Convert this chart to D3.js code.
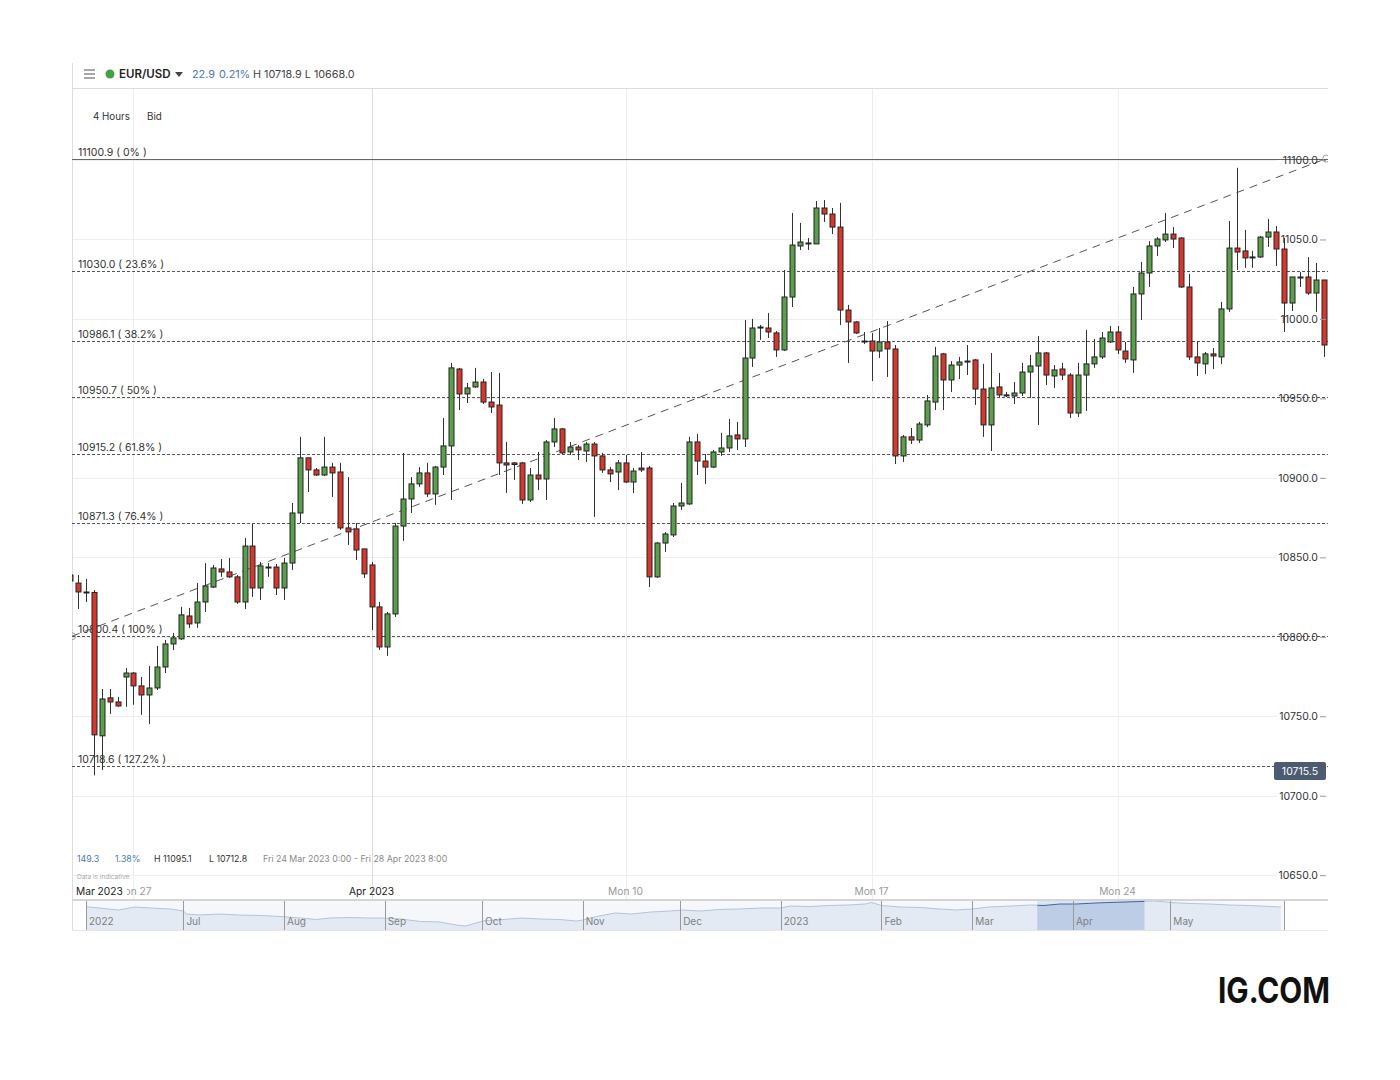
<!DOCTYPE html>
<html><head><meta charset="utf-8">
<script src="https://cdn.jsdelivr.net/npm/d3@7/dist/d3.min.js"></script>
<style>
body{margin:0;background:#fff;}
svg{display:block;font-family:Inter,"Noto Sans",sans-serif;}
</style>
</head><body>
<svg id="chart" width="1400" height="1080"></svg>
<script>
// ---------------- DATA ----------------
const symbol = "EUR/USD";
const headerChange = "22.9", headerPct = "0.21%", headerHL = "H 10718.9 L 10668.0";
const interval = "4 Hours", priceSide = "Bid";
const firstCandleIndex = -1;
const candleOpen = [10838.9,10833.8,10828.2,10827.9,10737.7,10761.6,10759.0,10774.7,10777.2,10769.1,10763.4,10767.8,10781.0,10795.5,10798.7,10813.1,10808.7,10821.9,10831.3,10842.7,10840.8,10837.7,10821.9,10857.1,10830.7,10843.9,10843.9,10830.7,10846.4,10877.9,10912.6,10905.0,10901.8,10906.8,10903.7,10868.5,10867.9,10855.3,10845.2,10818.8,10793.6,10814.4,10869.7,10886.7,10896.2,10903.1,10889.9,10906.8,10920.1,10968.5,10952.8,10957.2,10960.3,10947.7,10945.8,10909.4,10909.4,10909.4,10886.1,10901.8,10899.3,10922.6,10930.8,10916.3,10919.4,10916.9,10921.3,10913.8,10905.0,10903.7,10909.4,10897.4,10906.2,10906.2,10837.7,10859.0,10864.1,10882.3,10883.6,10922.6,10910.6,10906.8,10916.3,10918.8,10927.0,10924.5,10975.4,10994.9,10994.3,10991.2,10980.5,11013.8,11045.9,11047.2,11047.2,11069.8,11066.0,11057.8,11005.6,10998.1,10986.1,10986.1,10979.8,10985.5,10981.1,10913.8,10925.8,10923.8,10933.3,10947.7,10978.0,10961.6,10971.0,10973.5,10974.2,10955.9,10933.3,10957.2,10952.2,10951.5,10953.4,10966.6,10970.4,10978.6,10964.1,10968.5,10964.7,10940.8,10964.7,10971.7,10976.1,10985.5,10991.8,10979.8,10974.2,11015.7,11028.9,11045.9,11049.7,11053.4,11050.9,11020.1,10976.1,10971.7,10978.0,10976.1,11006.3,11044.6,11042.8,11039.0,11039.0,11051.5,11054.7,11044.0,11010.0,11026.4,11026.4,11016.3,11024.5];
const candleHigh = [10840.8,10838.9,10836.4,10829.4,10767.2,10767.2,10762.2,10780.4,10777.8,10774.7,10781.6,10794.2,10798.0,10802.4,10818.8,10818.2,10833.8,10846.4,10845.2,10848.9,10849.5,10838.9,10862.1,10871.0,10847.1,10846.4,10845.8,10849.6,10884.2,10925.8,10912.6,10906.2,10925.8,10909.4,10909.4,10900.5,10871.6,10855.3,10847.1,10821.9,10815.6,10871.6,10915.7,10900.5,10906.8,10909.4,10907.5,10937.7,10972.3,10969.2,10959.7,10969.2,10962.2,10966.6,10966.0,10922.6,10910.0,10910.0,10906.2,10916.3,10923.8,10937.7,10931.4,10922.6,10920.7,10922.6,10922.6,10915.7,10906.8,10911.2,10914.4,10906.2,10916.3,10907.5,10859.7,10865.9,10884.2,10896.8,10925.8,10927.6,10915.0,10917.6,10928.3,10937.0,10935.2,10999.3,11000.0,10996.2,11003.7,10992.4,11030.8,11066.7,11060.4,11050.9,11074.2,11074.8,11069.8,11073.0,11008.8,10998.7,10991.8,10991.2,10994.3,10998.7,10983.6,10927.0,10931.4,10935.2,10952.2,10982.4,10978.6,10973.5,10976.1,10983.6,10974.8,10971.7,10978.6,10966.0,10954.0,10960.3,10972.3,10977.3,10989.3,10979.2,10971.0,10972.3,10966.0,10972.3,10993.0,10987.4,10991.8,10995.6,10995.6,10985.5,11020.1,11035.8,11049.0,11051.5,11066.7,11057.8,11051.5,11028.3,10986.1,10979.2,10981.7,11010.7,11061.6,11095.1,11056.0,11042.8,11052.2,11062.9,11058.5,11050.9,11026.4,11029.5,11038.9,11035.2,11024.5];
const candleLow = [10833.2,10817.5,10821.9,10712.8,10716.2,10751.5,10755.9,10755.9,10757.2,10750.9,10745.2,10766.5,10777.2,10791.7,10798.0,10805.6,10805.6,10815.6,10830.7,10837.7,10837.0,10820.7,10817.5,10825.1,10823.2,10837.7,10826.3,10823.2,10842.1,10871.6,10891.1,10901.2,10901.2,10888.0,10867.3,10857.8,10848.3,10837.0,10804.3,10791.7,10788.0,10812.5,10860.3,10877.9,10894.3,10888.0,10883.0,10901.8,10886.1,10942.7,10947.1,10956.6,10946.5,10940.8,10901.8,10890.5,10898.7,10883.6,10884.8,10892.4,10886.1,10919.4,10915.0,10914.4,10911.2,10910.0,10875.4,10903.1,10897.4,10892.4,10896.8,10890.5,10903.7,10831.3,10837.0,10853.4,10862.8,10879.8,10883.0,10901.8,10896.2,10906.2,10913.8,10916.3,10917.6,10919.4,10969.8,10986.8,10988.0,10976.1,10979.8,11007.5,11043.4,11043.4,11047.2,11061.0,11053.4,10996.2,10972.3,10990.5,10984.2,10960.9,10975.4,10963.5,10908.7,10910.0,10921.3,10921.9,10932.0,10942.7,10942.7,10954.0,10962.2,10964.7,10945.9,10925.8,10916.9,10950.9,10950.9,10946.5,10951.5,10950.3,10933.3,10958.4,10956.6,10961.6,10937.7,10938.3,10942.1,10969.2,10974.8,10984.9,10977.9,10972.3,10966.0,10999.3,11020.1,11039.6,11048.4,11044.6,11019.5,10974.2,10964.1,10965.4,10968.5,10971.7,11004.4,11030.8,11032.1,11032.1,11038.4,11045.3,11033.3,10991.8,11005.0,11020.1,11015.1,11004.4,10976.1];
const candleClose = [10835.1,10828.2,10827.9,10738.3,10760.9,10759.0,10756.5,10777.2,10769.1,10763.4,10767.8,10781.0,10795.5,10799.3,10813.8,10808.1,10821.9,10832.0,10843.3,10840.8,10837.7,10821.9,10857.1,10830.7,10844.6,10843.6,10830.7,10846.4,10877.9,10912.6,10905.0,10901.8,10906.8,10903.1,10868.5,10866.0,10854.6,10839.6,10818.8,10793.6,10814.4,10869.7,10886.7,10896.2,10903.1,10889.9,10906.8,10920.1,10969.2,10952.8,10956.6,10960.3,10947.7,10944.6,10909.4,10908.1,10908.4,10886.1,10901.8,10899.3,10922.6,10930.8,10915.7,10919.4,10917.6,10921.3,10913.8,10905.0,10902.5,10909.4,10897.4,10904.3,10905.0,10837.7,10859.0,10864.7,10882.3,10884.2,10922.6,10910.6,10906.8,10916.3,10918.8,10926.4,10924.5,10975.4,10994.3,10994.3,10991.8,10980.5,11013.8,11046.5,11048.4,11047.8,11069.8,11066.0,11057.8,11005.6,10998.1,10991.2,10985.5,10979.8,10985.5,10981.1,10913.8,10925.8,10923.8,10933.9,10948.4,10976.7,10961.6,10971.0,10972.9,10973.2,10955.9,10933.3,10956.6,10952.2,10951.8,10953.4,10966.6,10970.4,10978.6,10964.7,10967.9,10964.7,10940.8,10964.7,10971.7,10976.1,10988.0,10991.8,10980.5,10974.8,11015.7,11028.9,11045.9,11050.3,11053.4,11050.3,11020.1,10976.1,10972.3,10978.0,10976.7,11006.3,11044.6,11042.1,11038.4,11038.4,11051.5,11054.7,11044.0,11010.0,11026.4,11026.1,11016.3,11024.5,10983.6];

const yTicks = [10650,10700,10750,10800,10850,10900,10950,11000,11050,11100];
const timeTickIndex = [7, 37, 69, 100, 131];
const timeTickLabels = ["Mon 27", "Apr 2023", "Mon 10", "Mon 17", "Mon 24"];
const timeTickMajor = [false, true, false, false, false];
const stickyTimeLabel = "Mar 2023";

const fibValues = [11100.9, 11030.0, 10986.1, 10950.7, 10915.2, 10871.3, 10800.4, 10718.6];
const fibLabels = ["0%", "23.6%", "38.2%", "50%", "61.8%", "76.4%", "100%", "127.2%"];
const fibAnchorIndex = [-0.73, 157.3];
const fibAnchorValue = [10800.4, 11100.9];
const priceTagValue = 10715.5;

const rangeChange = "149.3", rangePct = "1.38%", rangeHigh = "H 11095.1", rangeLow = "L 10712.8";
const rangeText = "Fri 24 Mar 2023 0:00 - Fri 28 Apr 2023 8:00";

const navStart = "2022-06-01";
const navDay = [0,4,10,15,20,26,30,31,35,41,47,54,60,66,71,75,81,87,92,97,103,109,114,117,120,123,127,134,140,146,151,153,158,163,168,174,180,184,189,195,201,208,214,217,223,229,235,240,242,245,251,257,263,268,273,278,285,291,295,300,305,311,315,320,325,329,334,340,346,352,358,365,368];
const navValue = [10720,10646,10533,10703,10646,10590,10476,10306,10250,10306,10250,10221,10165,10080,9994,10080,10108,10080,10080,10023,9881,9853,9683,9626,9796,9938,9966,10080,10023,9994,9910,9966,10193,10363,10306,10420,10476,10533,10476,10561,10590,10646,10646,10760,10731,10788,10817,10873,10958,10788,10703,10675,10590,10533,10590,10703,10760,10817,10788,10873,10873,10930,10958,10986,11015,11043,10958,10902,10873,10817,10788,10731,10703];
const navMonthStarts = ["2022-06-01","2022-07-01","2022-08-01","2022-09-01","2022-10-01","2022-11-01","2022-12-01","2023-01-01","2023-02-01","2023-03-01","2023-04-01","2023-05-01"];
const navMonthLabels = ["2022","Jul","Aug","Sep","Oct","Nov","Dec","2023","Feb","Mar","Apr","May"];
const navEndDay = 369;
const navSelection = ["2023-03-21", "2023-04-23"];
const brand = "IG.COM";

// ---------------- LAYOUT ----------------
const svg = d3.select("#chart");
const L = 72, R = 1328, topLine = 88, plotBottom = 900, gridRight = 1277;
const navTop = 900, navBottom = 930;
const GREEN = "#5a9f4b", RED = "#d6382e", OUTLINE = "#222";

const candles = candleOpen.map((o, k) => ({
  i: k + firstCandleIndex, o, h: candleHigh[k], l: candleLow[k], c: candleClose[k]
}));

const x = d3.scaleLinear().domain([0, 157]).range([77.9, 1323.9]);
const y = d3.scaleLinear().domain([10650, 11100]).range([875.2, 160]);

const defs = svg.append("defs");
defs.append("clipPath").attr("id", "plotclip")
  .append("rect").attr("x", L).attr("y", topLine).attr("width", R - L).attr("height", plotBottom - topLine);
defs.append("clipPath").attr("id", "stickyclip")
  .append("rect").attr("x", 127).attr("y", 880).attr("width", R - 127).attr("height", 20);

// horizontal grid
svg.append("g").selectAll("line").data(yTicks).join("line")
  .attr("x1", L).attr("x2", gridRight)
  .attr("y1", d => Math.round(y(d)) + 0.5).attr("y2", d => Math.round(y(d)) + 0.5)
  .attr("stroke", "#eeeeee");

// vertical grid
svg.append("g").selectAll("line").data(timeTickIndex).join("line")
  .attr("x1", d => Math.round(x(d)) + 0.5).attr("x2", d => Math.round(x(d)) + 0.5)
  .attr("y1", topLine).attr("y2", plotBottom)
  .attr("stroke", (d, k) => timeTickMajor[k] ? "#dddddd" : "#eeeeee");

// frame lines
svg.append("line").attr("x1", L + 0.5).attr("x2", L + 0.5).attr("y1", 63).attr("y2", navBottom).attr("stroke", "#dcdcdc");
svg.append("line").attr("x1", L).attr("x2", R).attr("y1", topLine + 0.5).attr("y2", topLine + 0.5).attr("stroke", "#dcdcdc");

// fib lines
const fibG = svg.append("g");
fibG.selectAll("line").data(fibValues).join("line")
  .attr("x1", L).attr("x2", R)
  .attr("y1", d => Math.round(y(d)) + 0.5).attr("y2", d => Math.round(y(d)) + 0.5)
  .attr("stroke", (d, k) => k === 0 ? "#666" : "#555")
  .attr("stroke-dasharray", (d, k) => k === 0 ? null : "3,2");
fibG.selectAll("text").data(fibValues).join("text")
  .attr("x", 78).attr("y", d => Math.round(y(d)) - 3)
  .attr("font-size", 10.5).attr("fill", "#333")
  .text((d, k) => `${d.toFixed(1)} ( ${fibLabels[k]} )`);

// trend line with anchors
const trendG = svg.append("g").attr("clip-path", "url(#plotclip)");
trendG.append("line")
  .attr("x1", x(fibAnchorIndex[0])).attr("y1", y(fibAnchorValue[0]))
  .attr("x2", x(fibAnchorIndex[1])).attr("y2", y(fibAnchorValue[1]))
  .attr("stroke", "#555").attr("stroke-dasharray", "8,6");
fibAnchorIndex.forEach((ix, k) => {
  trendG.append("circle").attr("cx", x(ix)).attr("cy", y(fibAnchorValue[k])).attr("r", 3.5)
    .attr("fill", "none").attr("stroke", "#999");
});

// candles
const cg = svg.append("g").attr("clip-path", "url(#plotclip)");
const bodyW = 5;
const cs = cg.selectAll("g").data(candles).join("g");
cs.append("line")
  .attr("x1", d => Math.round(x(d.i)) + 0.5).attr("x2", d => Math.round(x(d.i)) + 0.5)
  .attr("y1", d => y(d.h)).attr("y2", d => y(d.l))
  .attr("stroke", "#333").attr("stroke-width", 1);
cs.append("rect")
  .attr("x", d => Math.round(x(d.i)) - 2)
  .attr("width", bodyW)
  .attr("y", d => Math.min(y(d.o), y(d.c)))
  .attr("height", d => Math.max(1, Math.abs(y(d.o) - y(d.c))))
  .attr("fill", d => d.c >= d.o ? GREEN : RED)
  .attr("stroke", OUTLINE).attr("stroke-width", 1);

// y axis (right side, labels inside)
const yAxis = d3.axisLeft(y).tickValues(yTicks).tickFormat(d3.format(".1f")).tickSize(6).tickPadding(2);
const ya = svg.append("g").attr("transform", `translate(${R - 2},0)`).call(yAxis);
ya.select(".domain").remove();
ya.selectAll(".tick line").attr("stroke", "#999");
ya.selectAll(".tick text").attr("fill", "#333").attr("font-size", 10.5).attr("font-family", "Inter,'Noto Sans',sans-serif");

// price tag
const tagY = y(priceTagValue);
svg.append("rect").attr("x", 1274).attr("y", tagY - 9).attr("width", 52).attr("height", 18).attr("rx", 2)
  .attr("fill", "#4b5b70");
svg.append("text").attr("x", 1300).attr("y", tagY + 4).attr("text-anchor", "middle")
  .attr("font-size", 10.5).attr("fill", "#fff").text(priceTagValue.toFixed(1));

// header
const hg = svg.append("g");
[70, 74, 78].forEach(yy => hg.append("line").attr("x1", 84).attr("x2", 95).attr("y1", yy).attr("y2", yy).attr("stroke", "#777").attr("stroke-width", 1.3));
hg.append("circle").attr("cx", 110).attr("cy", 74).attr("r", 4.5).attr("fill", "#43a047");
hg.append("text").attr("x", 119).attr("y", 78).attr("font-size", 11.5).attr("font-weight", 600).attr("fill", "#222").text(symbol);
hg.append("path").attr("d", "M175,72 L183,72 L179,77 Z").attr("fill", "#444");
hg.append("text").attr("x", 192).attr("y", 78).attr("font-size", 10.8).attr("fill", "#4a78b5").text(headerChange);
hg.append("text").attr("x", 219).attr("y", 78).attr("font-size", 10.8).attr("fill", "#4a78b5").text(headerPct);
hg.append("text").attr("x", 253).attr("y", 78).attr("font-size", 10.8).attr("fill", "#444").text(headerHL);
hg.append("text").attr("x", 93).attr("y", 120).attr("font-size", 9.8).attr("fill", "#333").text(interval);
hg.append("text").attr("x", 147).attr("y", 120).attr("font-size", 9.8).attr("fill", "#333").text(priceSide);

// bottom info
const ig = svg.append("g").attr("font-size", 8.8);
ig.append("text").attr("x", 77).attr("y", 862).attr("fill", "#4a78b5").text(rangeChange);
ig.append("text").attr("x", 115).attr("y", 862).attr("fill", "#4a78b5").text(rangePct);
ig.append("text").attr("x", 154).attr("y", 862).attr("fill", "#333").text(rangeHigh);
ig.append("text").attr("x", 209).attr("y", 862).attr("fill", "#333").text(rangeLow);
ig.append("text").attr("x", 263).attr("y", 862).attr("fill", "#888").text(rangeText);
svg.append("text").attr("x", 77).attr("y", 879).attr("font-size", 6.5).attr("fill", "#aaa").text("Data is indicative");

// time axis labels
const tg = svg.append("g").attr("font-size", 10.2);
tg.selectAll("text.t").data(timeTickIndex).join("text").attr("class", "t")
  .attr("x", d => x(d)).attr("y", 895).attr("text-anchor", "middle")
  .attr("fill", (d, k) => timeTickMajor[k] ? "#222" : "#999")
  .attr("clip-path", (d, k) => k === 0 ? "url(#stickyclip)" : null)
  .text((d, k) => timeTickLabels[k]);
tg.append("text").attr("x", 76).attr("y", 895).attr("fill", "#222").text(stickyTimeLabel);

// navigator
const parse = d3.timeParse("%Y-%m-%d");
const n0 = parse(navStart);
const dayOf = s => d3.timeDay.count(n0, parse(s));
const nx = d3.scaleLinear().domain([0, navEndDay]).range([86, 1284]);
const ny = d3.scaleLinear().domain([9400, 11100]).range([navBottom, navTop]);
const ng = svg.append("g");
ng.append("rect").attr("x", nx(0)).attr("y", navTop).attr("width", nx(navEndDay) - nx(0)).attr("height", navBottom - navTop).attr("fill", "#f5f7fb");
const navPts = navDay.map((d, k) => [d, navValue[k]]);
const area = d3.area().x(d => nx(d[0])).y0(navBottom).y1(d => ny(d[1]));
const lineG = d3.line().x(d => nx(d[0])).y(d => ny(d[1]));
ng.append("path").attr("d", area(navPts)).attr("fill", "#e3eaf4");
ng.append("path").attr("d", lineG(navPts)).attr("fill", "none").attr("stroke", "#b3c4dc").attr("stroke-width", 1);
// selection
const s0 = nx(dayOf(navSelection[0])), s1 = nx(dayOf(navSelection[1]));
defs.append("clipPath").attr("id", "selclip").append("rect").attr("x", s0).attr("y", navTop).attr("width", s1 - s0).attr("height", navBottom - navTop);
ng.append("rect").attr("x", s0).attr("y", navTop).attr("width", s1 - s0).attr("height", navBottom - navTop).attr("fill", "#dbe4f1");
ng.append("path").attr("d", area(navPts)).attr("fill", "#bccde5").attr("clip-path", "url(#selclip)");
ng.append("path").attr("d", lineG(navPts)).attr("fill", "none").attr("stroke", "#3f67a3").attr("stroke-width", 1.2).attr("clip-path", "url(#selclip)");
// borders
ng.append("line").attr("x1", L).attr("x2", R).attr("y1", navTop).attr("y2", navTop).attr("stroke", "#d5d5d5").attr("stroke-width", 2);
ng.append("line").attr("x1", L).attr("x2", R).attr("y1", navBottom + 0.5).attr("y2", navBottom + 0.5).attr("stroke", "#e6e6e6");
// month dividers
const months = navMonthStarts.map((s, k) => ({ d: dayOf(s), label: navMonthLabels[k] }));
ng.selectAll("line.m").data(months).join("line").attr("class", "m")
  .attr("x1", d => Math.round(nx(d.d)) + 0.5).attr("x2", d => Math.round(nx(d.d)) + 0.5)
  .attr("y1", navTop + 1).attr("y2", navBottom).attr("stroke", "#9a9a9a");
ng.append("line").attr("x1", Math.round(nx(navEndDay)) + 0.5).attr("x2", Math.round(nx(navEndDay)) + 0.5)
  .attr("y1", navTop + 1).attr("y2", navBottom).attr("stroke", "#9a9a9a");
ng.selectAll("text").data(months).join("text")
  .attr("x", d => nx(d.d) + 3).attr("y", 925).attr("font-size", 10).attr("fill", "#808080").text(d => d.label);

// brand
svg.append("text").attr("x", 1218).attr("y", 1003).attr("font-size", 35).attr("font-weight", 700)
  .attr("fill", "#111").attr("textLength", 112).attr("lengthAdjust", "spacingAndGlyphs").text(brand);
</script>
</body></html>
